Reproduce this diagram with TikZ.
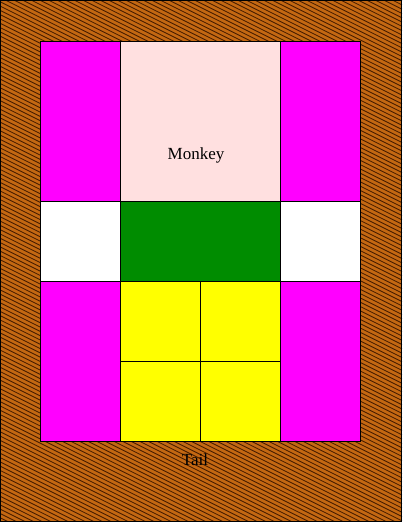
\documentclass[tikz,border=0pt]{standalone}
\usepackage{fontspec}
\setmainfont{Liberation Serif}
\definecolor{brownbase}{RGB}{196,104,18}
\definecolor{hatch}{RGB}{70,28,0}
\definecolor{pinkc}{RGB}{255,224,224}
\definecolor{greenc}{RGB}{0,140,0}
\definecolor{magc}{RGB}{255,0,255}
\definecolor{yelc}{RGB}{255,255,0}
\begin{document}
\begin{tikzpicture}[x=1pt,y=1pt,
  cell/.style={draw=black,line width=0.9pt},
  lbl/.style={font=\fontsize{17}{19}\selectfont,inner sep=0pt}]
\useasboundingbox (0,0) rectangle (402,522);
\fill[brownbase] (0,0) rectangle (402,522);
\begin{scope}
\clip (0,0) rectangle (402,522);
\foreach \c in {0,4.3,...,730} \draw[hatch,line width=0.85pt] (0,\c) -- (402,\c-201);
\end{scope}
\draw[black,line width=1.5pt] (0.5,0.5) rectangle (401.5,521.5);
% grid: image y -> tikz 522-y
\path[cell,fill=magc] (40,481) rectangle (120,321);
\path[cell,fill=pinkc] (120,481) rectangle (280,321);
\path[cell,fill=magc] (280,481) rectangle (360,321);
\path[cell,fill=white] (40,321) rectangle (120,241);
\path[cell,fill=greenc] (120,321) rectangle (280,241);
\path[cell,fill=white] (280,321) rectangle (360,241);
\path[cell,fill=magc] (40,241) rectangle (120,81);
\path[cell,fill=yelc] (120,241) rectangle (200,161);
\path[cell,fill=yelc] (200,241) rectangle (280,161);
\path[cell,fill=yelc] (120,161) rectangle (200,81);
\path[cell,fill=yelc] (200,161) rectangle (280,81);
\path[cell,fill=magc] (280,241) rectangle (360,81);
\node[lbl] (monkey) at (196,367) {Monkey};
\node[lbl] (tail) at (195,62) {Tail};
\end{tikzpicture}
\end{document}
